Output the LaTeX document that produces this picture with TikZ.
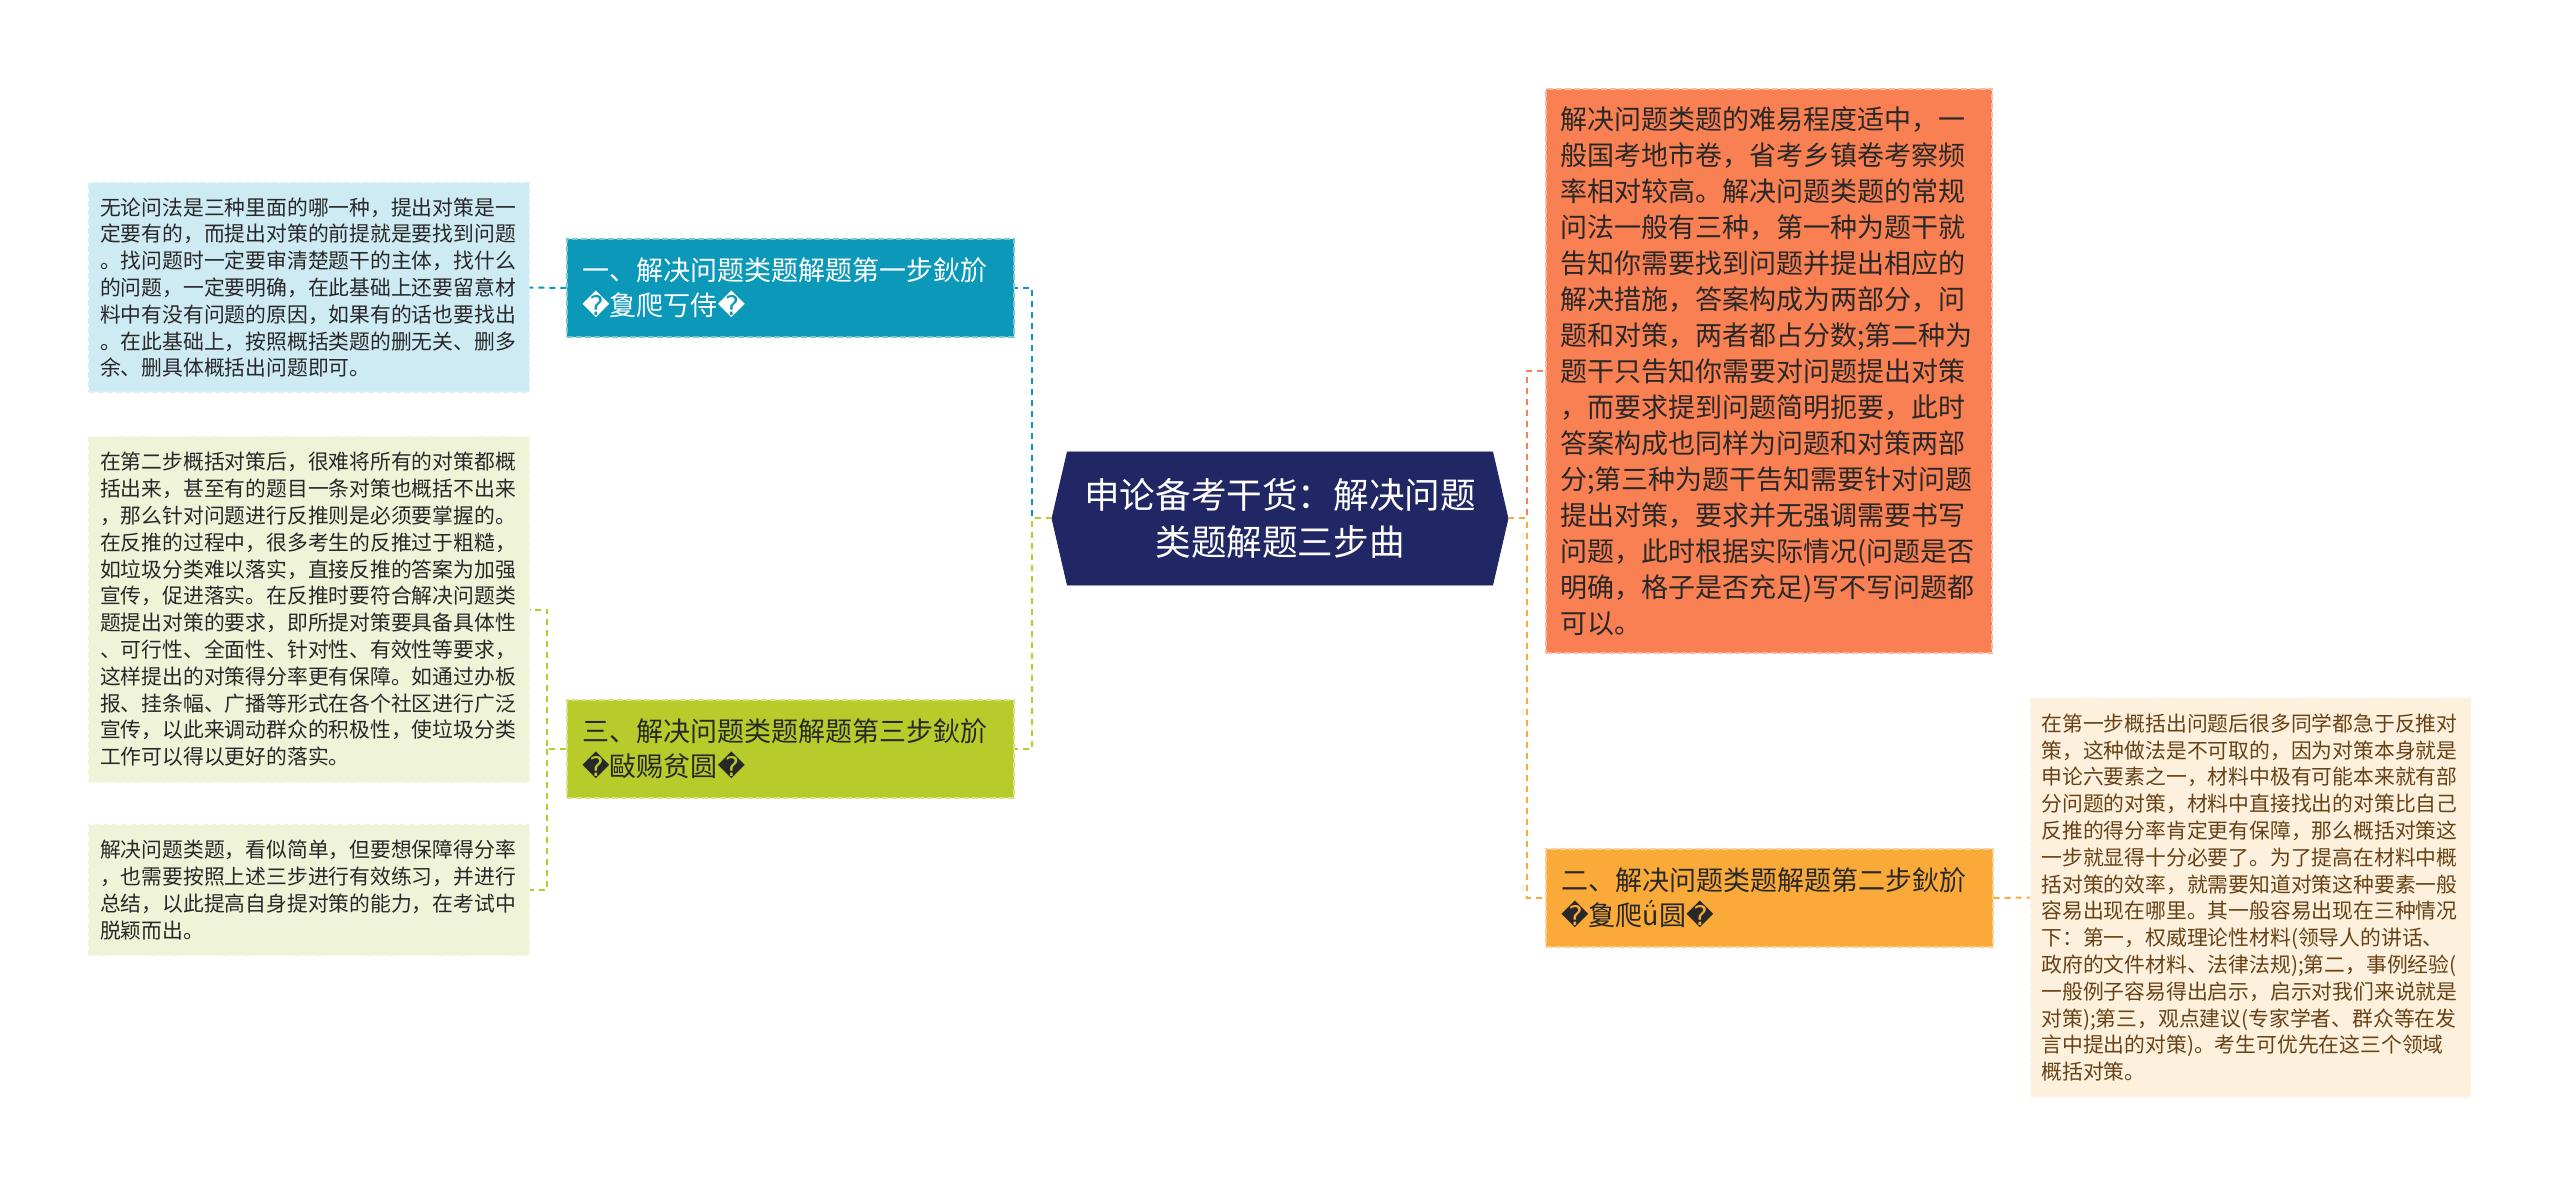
\documentclass[tikz,border=0pt]{standalone}
\usepackage{fontspec}
\setmainfont{Noto Sans CJK SC}
\newfontfamily\repfont{DejaVu Sans}
\newcommand{\bad}{{\repfont\symbol{"FFFD}}}
\usepackage{xcolor}
\usetikzlibrary{shapes.symbols}

\definecolor{TitleNavy}{RGB}{33,38,101}
\definecolor{StepBlue}{RGB}{12,152,185}
\definecolor{StepGreen}{RGB}{183,203,43}
\definecolor{StepOrange}{RGB}{250,170,56}
\definecolor{IntroCoral}{RGB}{249,128,82}
\definecolor{NoteBlue}{RGB}{206,234,243}
\definecolor{NoteGreen}{RGB}{239,243,216}
\definecolor{NoteCream}{RGB}{253,241,222}
\definecolor{NoteBrown}{RGB}{104,66,22}
\definecolor{InkGray}{RGB}{40,40,40}

\begin{document}
\begin{tikzpicture}[
                    x=0.5pt, y=-0.5pt,
                    topic/.style = {shape=signal, signal to=west and east, signal pointer angle=154,
                                    fill=TitleNavy, draw=TitleNavy, text=white, align=center,
                                    minimum width=228pt, minimum height=66.5pt, inner sep=0pt,
                                    font=\fontsize{17.8}{23.3}\selectfont},
                    branch/.style = {draw, line width=0.7pt, dash pattern=on 3pt off 1.5pt, align=left,
                                     text width=208.5pt, inner xsep=7.5pt, minimum height=49pt,
                                     font=\fontsize{13.5}{17.5}\selectfont},
                    leaf/.style = {draw, line width=0.6pt, dash pattern=on 3pt off 1.5pt, align=left,
                                   text width=209pt, inner xsep=5.5pt,
                                   font=\fontsize{10.4}{13.4}\selectfont},
                    link/.style = {line width=1pt, dash pattern=on 3pt off 2.5pt}
                    ]
\tikzset{
  blue_box/.style={fill=StepBlue, draw=StepBlue!55!white, text=white},
  green_box/.style={fill=StepGreen, draw=StepGreen!55!white, text=InkGray},
  orange_box/.style={fill=StepOrange, draw=StepOrange!55!white, text=InkGray},
  coral_box/.style={fill=IntroCoral, draw=IntroCoral!55!white, text=InkGray},
  blue_note/.style={fill=NoteBlue, draw=NoteBlue!80!white, text=InkGray},
  green_note/.style={fill=NoteGreen, draw=NoteGreen!80!white, text=InkGray},
  cream_note/.style={fill=NoteCream, draw=NoteCream!80!white, text=NoteBrown}
}

\useasboundingbox[fill=white] (0,0) rectangle (2560,1187);

\node[topic] (title) at (1280,518.5) {申论备考干货：解决问题\\类题解题三步曲};

\node[branch,blue_box]   (stepone)   at (790.5,288)  {一、解决问题类题解题第一步鈥斺\\\bad 夐爬丂侍\bad};
\node[branch,green_box]  (stepthree) at (790.5,749)  {三、解决问题类题解题第三步鈥斺\\\bad 敺赐贫圆\bad};
\node[branch,orange_box] (steptwo)   at (1769.5,898) {二、解决问题类题解题第二步鈥斺\\\bad 夐爬ǘ圆\bad};

\node[branch,coral_box,text width=209pt,inner xsep=7pt,minimum height=282pt,
      font=\fontsize{13.5}{18}\selectfont] (intro) at (1769,371) {解决问题类题的难易程度适中，一\\
般国考地市卷，省考乡镇卷考察频\\
率相对较高。解决问题类题的常规\\
问法一般有三种，第一种为题干就\\
告知你需要找到问题并提出相应的\\
解决措施，答案构成为两部分，问\\
题和对策，两者都占分数;第二种为\\
题干只告知你需要对问题提出对策\\
，而要求提到问题简明扼要，此时\\
答案构成也同样为问题和对策两部\\
分;第三种为题干告知需要针对问题\\
提出对策，要求并无强调需要书写\\
问题，此时根据实际情况(问题是否\\
明确，格子是否充足)写不写问题都\\
可以。};

\node[leaf,blue_note,minimum height=104.5pt] (onedetail) at (309,287.5) {无论问法是三种里面的哪一种，提出对策是一\\
定要有的，而提出对策的前提就是要找到问题\\
。找问题时一定要审清楚题干的主体，找什么\\
的问题，一定要明确，在此基础上还要留意材\\
料中有没有问题的原因，如果有的话也要找出\\
。在此基础上，按照概括类题的删无关、删多\\
余、删具体概括出问题即可。};

\node[leaf,green_note,minimum height=172.5pt] (threedetail) at (309,609.5) {在第二步概括对策后，很难将所有的对策都概\\
括出来，甚至有的题目一条对策也概括不出来\\
，那么针对问题进行反推则是必须要掌握的。\\
在反推的过程中，很多考生的反推过于粗糙，\\
如垃圾分类难以落实，直接反推的答案为加强\\
宣传，促进落实。在反推时要符合解决问题类\\
题提出对策的要求，即所提对策要具备具体性\\
、可行性、全面性、针对性、有效性等要求，\\
这样提出的对策得分率更有保障。如通过办板\\
报、挂条幅、广播等形式在各个社区进行广泛\\
宣传，以此来调动群众的积极性，使垃圾分类\\
工作可以得以更好的落实。};

\node[leaf,green_note,minimum height=65pt] (summary) at (309,890) {解决问题类题，看似简单，但要想保障得分率\\
，也需要按照上述三步进行有效练习，并进行\\
总结，以此提高自身提对策的能力，在考试中\\
脱颖而出。};

\node[leaf,cream_note,minimum height=199.5pt] (twodetail) at (2250.5,897.5) {在第一步概括出问题后很多同学都急于反推对\\
策，这种做法是不可取的，因为对策本身就是\\
申论六要素之一，材料中极有可能本来就有部\\
分问题的对策，材料中直接找出的对策比自己\\
反推的得分率肯定更有保障，那么概括对策这\\
一步就显得十分必要了。为了提高在材料中概\\
括对策的效率，就需要知道对策这种要素一般\\
容易出现在哪里。其一般容易出现在三种情况\\
下：第一，权威理论性材料(领导人的讲话、\\
政府的文件材料、法律法规);第二，事例经验(\\
一般例子容易得出启示，启示对我们来说就是\\
对策);第三，观点建议(专家学者、群众等在发\\
言中提出的对策)。考生可优先在这三个领域\\
概括对策。};

\coordinate (jl) at (1032,518.5);
\coordinate (jr) at (1527,518.5);
\coordinate (jt) at (547,749);

\draw[link,StepBlue]   (title.west) -- (jl) |- (stepone.east);
\draw[link,StepGreen]  (title.west) -- (jl) |- (stepthree.east);
\draw[link,IntroCoral] (title.east) -- (jr) |- (intro.west);
\draw[link,StepOrange] (title.east) -- (jr) |- (steptwo.west);
\draw[link,StepBlue]   (stepone.west) -- (onedetail.east);
\draw[link,StepGreen]  (stepthree.west) -- (jt) |- (threedetail.east);
\draw[link,StepGreen]  (jt) |- (summary.east);
\draw[link,StepOrange] (steptwo.east) -- (twodetail.west);
\end{tikzpicture}
\end{document}
